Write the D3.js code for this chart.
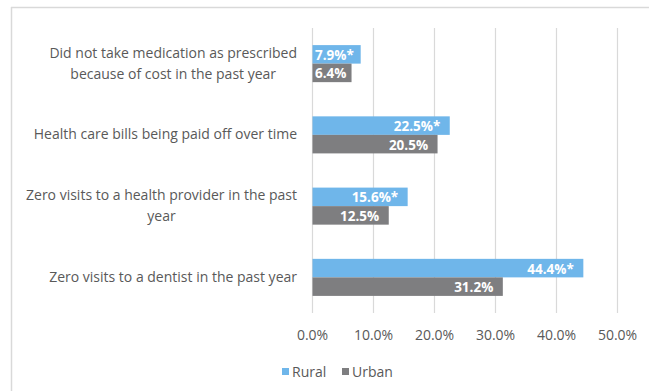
<!DOCTYPE html>
<html>
<head>
<meta charset="utf-8">
<script src="https://cdn.jsdelivr.net/npm/d3@7"></script>
<style>
  html, body { margin: 0; padding: 0; background: #fff; }
  svg { display: block; font-family: "Open Sans", Lato, "Liberation Sans", sans-serif; }
</style>
</head>
<body>
<svg id="chart" width="649" height="391"></svg>
<script>
// Survey measures (each label split into its printed lines)
const categories = [
  ["Did not take medication as prescribed", "because of cost in the past year"],
  ["Health care bills being paid off over time"],
  ["Zero visits to a health provider in the past", "year"],
  ["Zero visits to a dentist in the past year"]
];
const seriesNames = ["Rural", "Urban"];
const ruralValues = [7.9, 22.5, 15.6, 44.4];
const urbanValues = [6.4, 20.5, 12.5, 31.2];
const ruralSignificant = [true, true, true, true];
const tickValues = [0, 10, 20, 30, 40, 50];

const colors = { Rural: "#6fb6ea", Urban: "#7e7e80" };
const textColor = "#595959";

const svg = d3.select("#chart");

// Outer frame (top and left edges visible)
svg.append("line").attr("x1", 11).attr("x2", 649).attr("y1", 7.5).attr("y2", 7.5)
  .attr("stroke", "#d9d9d9").attr("stroke-width", 1.5);
svg.append("line").attr("x1", 11.5).attr("x2", 11.5).attr("y1", 7).attr("y2", 391)
  .attr("stroke", "#d9d9d9").attr("stroke-width", 1.5);

const plot = { left: 312, right: 617, top: 28, bottom: 313 };

const x = d3.scaleLinear().domain([0, 50]).range([plot.left, plot.right]);
const y = d3.scaleBand().domain(d3.range(categories.length))
  .range([plot.top, plot.bottom]).paddingInner(0.48).paddingOuter(0.24);
const ySeries = d3.scaleBand().domain(seriesNames).range([0, y.bandwidth()]);

// Vertical gridlines
svg.append("g").selectAll("line").data(tickValues).join("line")
  .attr("x1", d => x(d) + 0.5).attr("x2", d => x(d) + 0.5)
  .attr("y1", plot.top).attr("y2", plot.bottom)
  .attr("stroke", "#d9d9d9").attr("stroke-width", 1.2);

// Tick labels via a bottom axis
const xAxis = d3.axisBottom(x).tickValues(tickValues)
  .tickFormat(d => d.toFixed(1) + "%").tickSize(0).tickPadding(0);
const axisG = svg.append("g").attr("transform", `translate(0,${plot.bottom})`).call(xAxis);
axisG.select(".domain").remove();
axisG.selectAll("text")
  .attr("y", 21).attr("dy", 0)
  .attr("dominant-baseline", "central")
  .attr("fill", textColor).attr("font-size", 14)
  .attr("font-family", "'Open Sans', Lato, sans-serif");

// Category labels: block right-aligned, lines centred inside the block
const labelRight = 297;
const lineH = 21;
categories.forEach((lines, i) => {
  const cy = y(i) + y.bandwidth() / 2;
  const g = svg.append("g");
  const texts = g.selectAll("text").data(lines).join("text")
    .attr("font-size", 14).attr("fill", textColor)
    .attr("text-anchor", "middle")
    .attr("dominant-baseline", "central")
    .text(d => d);
  let maxW = 0;
  texts.each(function () { maxW = Math.max(maxW, this.getComputedTextLength()); });
  const cx = labelRight - maxW / 2;
  const y0 = cy - (lines.length - 1) * lineH / 2 - 1;
  texts.attr("x", cx).attr("y", (d, j) => y0 + j * lineH);
});

// Bars
const rows = [];
categories.forEach((c, i) => {
  rows.push({ i, s: "Rural", v: ruralValues[i], star: ruralSignificant[i] });
  rows.push({ i, s: "Urban", v: urbanValues[i], star: false });
});

svg.append("g").selectAll("rect").data(rows).join("rect")
  .attr("x", x(0) + 0.5)
  .attr("y", d => y(d.i) + ySeries(d.s))
  .attr("width", d => x(d.v) - x(0))
  .attr("height", ySeries.bandwidth())
  .attr("fill", d => colors[d.s]);

// Value labels at the inside end of each bar, kept from spilling past the base
const labels = svg.append("g").selectAll("text").data(rows).join("text")
  .attr("y", d => y(d.i) + ySeries(d.s) + ySeries.bandwidth() / 2 + 0.5)
  .attr("dominant-baseline", "central")
  .attr("text-anchor", "start")
  .attr("fill", "#ffffff")
  .attr("font-weight", "bold")
  .attr("font-size", 13.5)
  .text(d => d.v.toFixed(1) + "%" + (d.star ? "*" : ""));
labels.each(function (d) {
  const w = this.getComputedTextLength();
  const xs = Math.max(x(0) + 3, x(d.v) - 9 - w);
  d3.select(this).attr("x", xs);
});

// Legend
const legend = svg.append("g").attr("transform", "translate(0,371)");
const legendX = [282, 342];
seriesNames.forEach((s, k) => {
  legend.append("rect").attr("x", legendX[k]).attr("y", -3).attr("width", 7).attr("height", 7)
    .attr("fill", colors[s]);
  legend.append("text").attr("x", legendX[k] + 10).attr("y", 0)
    .attr("dominant-baseline", "central")
    .attr("font-size", 14).attr("fill", textColor).text(s);
});
</script>
</body>
</html>
